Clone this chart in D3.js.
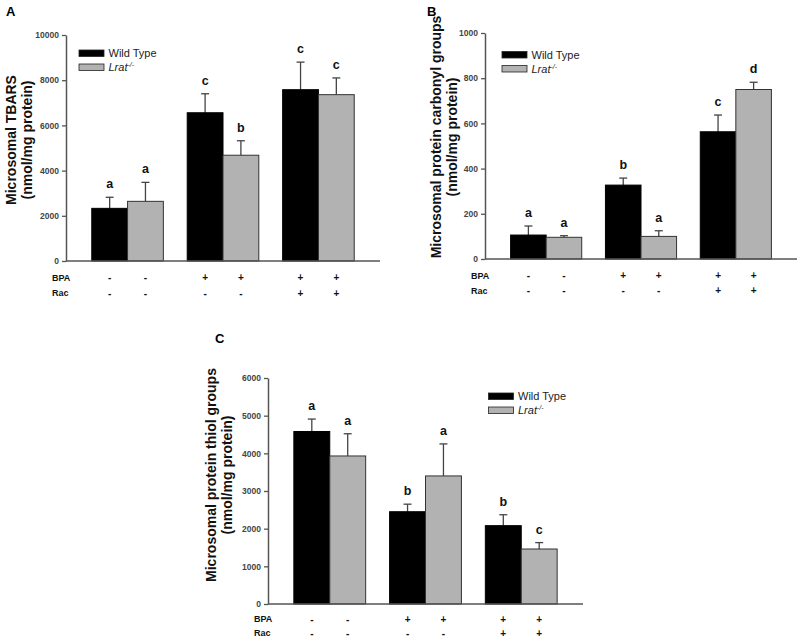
<!DOCTYPE html>
<html><head><meta charset="utf-8">
<script src="https://cdn.jsdelivr.net/npm/d3@7"></script>
<style>
body{margin:0;background:#fff;}
svg{display:block;font-family:Arial,"Liberation Sans",sans-serif;}
</style></head>
<body><svg id="c" width="800" height="640"></svg>
<script>
// ---- data ----
const groups = ["G1","G2","G3"];
const seriesNames = ["Wild Type","Lrat"];
const bpaRow = ["-","-","+","+","+","+"];
const racRow = ["-","-","-","-","+","+"];

const tbarsWT = [2330, 6560, 7580];
const tbarsWTErr = [2820, 7400, 8800];
const tbarsKO = [2640, 4680, 7360];
const tbarsKOErr = [3480, 5320, 8100];
const tbarsLetters = ["a","a","c","b","c","c"];
const tbarsTicks = [0,2000,4000,6000,8000,10000];

const carbWT = [106, 327, 563];
const carbWTErr = [146, 358, 637];
const carbKO = [96, 100, 750];
const carbKOErr = [103, 125, 782];
const carbLetters = ["a","a","b","a","c","d"];
const carbTicks = [0,200,400,600,800,1000];

const thiolWT = [4580, 2450, 2080];
const thiolWTErr = [4910, 2650, 2370];
const thiolKO = [3930, 3400, 1460];
const thiolKOErr = [4520, 4250, 1630];
const thiolLetters = ["a","a","b","a","b","c"];
const thiolTicks = [0,1000,2000,3000,4000,5000,6000];

const colors = ["#000000","#b2b2b2"];
const svg = d3.select("#c");

function panel(cfg){
  const g = svg.append("g");
  const x = d3.scaleBand().domain(groups).range([cfg.x0,cfg.x1]).paddingInner(0.25).paddingOuter(0.27);
  const xs = d3.scaleBand().domain(seriesNames).range([0,x.bandwidth()]);
  const y = d3.scaleLinear().domain([0,cfg.max]).range([cfg.y1,cfg.y0]);
  const vals = [cfg.wt, cfg.ko], errs = [cfg.wtErr, cfg.koErr];
  const bars = [];
  groups.forEach((gr,i)=>{
    seriesNames.forEach((s,j)=>{
      bars.push({gr, s, j, v:vals[j][i], e:errs[j][i], idx:i*2+j});
    });
  });
  // error bars
  bars.forEach(b=>{
    const cx = x(b.gr)+xs(b.s)+xs.bandwidth()/2;
    g.append("line").attr("x1",cx).attr("x2",cx).attr("y1",y(b.v)).attr("y2",y(b.e))
      .attr("stroke","#444").attr("stroke-width",1.3);
    g.append("line").attr("x1",cx-4).attr("x2",cx+4).attr("y1",y(b.e)).attr("y2",y(b.e))
      .attr("stroke","#444").attr("stroke-width",1.3);
    g.append("text").attr("x",cx).attr("y",y(b.e)-9).attr("text-anchor","middle")
      .attr("font-size",12.5).attr("font-weight","bold").attr("fill","#111")
      .text(cfg.letters[b.idx]);
  });
  g.selectAll("rect.bar").data(bars).enter().append("rect").attr("class","bar")
    .attr("x",b=>x(b.gr)+xs(b.s)).attr("width",xs.bandwidth())
    .attr("y",b=>y(b.v)).attr("height",b=>y(0)-y(b.v))
    .attr("fill",b=>colors[b.j]).attr("stroke",b=>b.j? "#333":"#000").attr("stroke-width",1);
  // axes
  const ya = g.append("g").attr("transform",`translate(${cfg.x0},0)`)
    .call(d3.axisLeft(y).tickValues(cfg.ticks).tickSize(4).tickSizeOuter(0).tickPadding(3).tickFormat(d3.format("d")));
  ya.select(".domain").attr("stroke","#555").attr("stroke-width",1.5);
  ya.selectAll(".tick line").attr("stroke","#555").attr("stroke-width",1.3);
  ya.selectAll(".tick text").attr("font-size",8.5).attr("font-weight","bold").attr("fill","#444")
    .attr("font-family","Arial,'Liberation Sans',sans-serif");
  g.append("line").attr("x1",cfg.x0).attr("x2",cfg.x1).attr("y1",cfg.y1).attr("y2",cfg.y1)
    .attr("stroke","#555").attr("stroke-width",1.5);
  // y title
  const t = g.append("text").attr("transform",`translate(${cfg.tx},${cfg.ty}) rotate(-90)`)
    .attr("text-anchor","middle").attr("font-size",14).attr("font-weight","bold").attr("fill","#111");
  t.append("tspan").attr("x",0).attr("y",0).text(cfg.title);
  t.append("tspan").attr("x",0).attr("y",16).text("(nmol/mg protein)");
  // panel letter
  g.append("text").attr("x",cfg.lx).attr("y",cfg.ly).attr("font-size",13).attr("font-weight","bold")
    .attr("fill","#000").text(cfg.label);
  // legend
  [0,1].forEach(j=>{
    const ly = cfg.legY + j*14;
    g.append("rect").attr("x",cfg.legX).attr("y",ly).attr("width",25).attr("height",6.5)
      .attr("fill",colors[j]).attr("stroke","#222").attr("stroke-width",0.8);
    const tx = g.append("text").attr("x",cfg.legX+29.5).attr("y",ly+7).attr("font-size",11).attr("fill","#222");
    if(j===0){ tx.text(seriesNames[0]); }
    else {
      tx.append("tspan").attr("font-style","italic").text(seriesNames[1]);
      tx.append("tspan").attr("font-style","italic").attr("font-size",7).attr("dy",-4).text("-/-");
    }
  });
  // BPA / Rac rows
  const rows = [["BPA",bpaRow],["Rac",racRow]];
  rows.forEach((r,k)=>{
    const ry = cfg.y1 + cfg.rowOff[k];
    g.append("text").attr("x",cfg.x0-14).attr("y",ry).attr("dy","0.35em")
      .attr("font-size",9).attr("font-weight","bold").attr("fill","#111").text(r[0]);
    bars.forEach(b=>{
      const cx = x(b.gr)+xs(b.s)+xs.bandwidth()/2;
      g.append("text").attr("x",cx).attr("y",ry).attr("dy","0.35em").attr("text-anchor","middle")
        .attr("font-size",10).attr("font-weight","bold").attr("fill","#111").text(r[1][b.idx]);
    });
  });
}

panel({x0:66,x1:380,y0:35,y1:261,max:10000,wt:tbarsWT,wtErr:tbarsWTErr,ko:tbarsKO,koErr:tbarsKOErr,
  letters:tbarsLetters,ticks:tbarsTicks,title:"Microsomal TBARS",tx:16,ty:140,lx:6,ly:16,label:"A",legX:79,legY:50,rowOff:[16.5,32]});
panel({x0:485,x1:797,y0:33,y1:259,max:1000,wt:carbWT,wtErr:carbWTErr,ko:carbKO,koErr:carbKOErr,
  letters:carbLetters,ticks:carbTicks,title:"Microsomal protein carbonyl groups",tx:441,ty:137,lx:427,ly:16,label:"B",legX:502,legY:51.5,rowOff:[16.5,31.5]});
panel({x0:268,x1:583,y0:378,y1:604,max:6000,wt:thiolWT,wtErr:thiolWTErr,ko:thiolKO,koErr:thiolKOErr,
  letters:thiolLetters,ticks:thiolTicks,title:"Microsomal protein thiol groups",tx:216,ty:475,lx:215,ly:343,label:"C",legX:488.5,legY:393,rowOff:[15,29]});
</script></body></html>
